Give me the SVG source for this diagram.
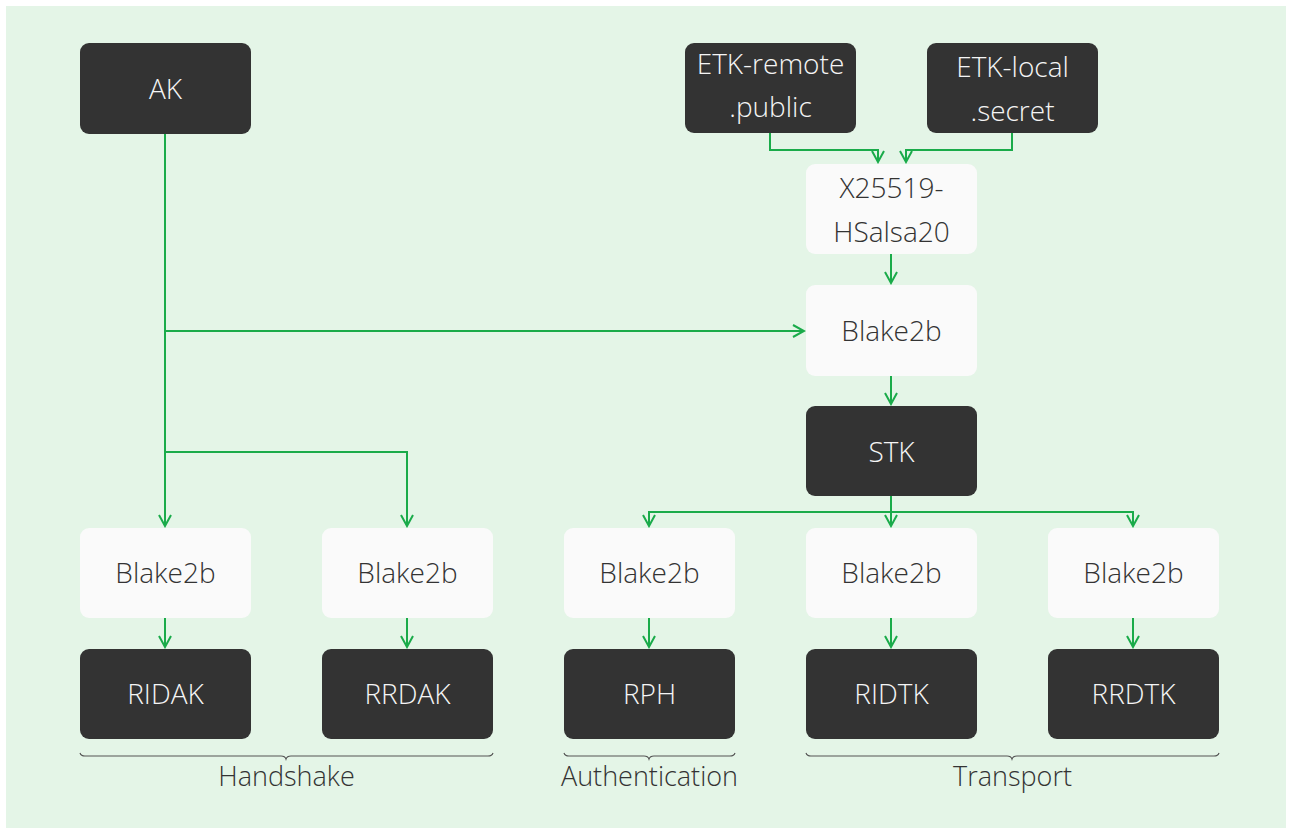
<svg xmlns="http://www.w3.org/2000/svg" width="1292" height="834" viewBox="0 0 1292 834">
<style>
.dark{fill:#333333}
.light{fill:#fafafa}
.tl{font-family:"Open Sans","Liberation Sans",sans-serif;font-weight:300;font-size:28px;fill:#f5f5f5;text-anchor:middle}
.td{font-family:"Open Sans","Liberation Sans",sans-serif;font-weight:300;font-size:28px;fill:#333333;text-anchor:middle}
.edge{fill:none;stroke:#1aab4a;stroke-width:2}
.brace{fill:none;stroke:#555;stroke-width:1.2}
.lbl{font-family:"Open Sans","Liberation Sans",sans-serif;font-weight:300;font-size:27px;fill:#333;text-anchor:middle}
</style>
<defs>
<marker id="arr" viewBox="0 0 14 14" refX="12" refY="7" markerWidth="14" markerHeight="14" markerUnits="userSpaceOnUse" orient="auto">
<path d="M1,1 L12,7 L1,13" fill="none" stroke="#1aab4a" stroke-width="2"/>
</marker>
</defs>
<rect x="0" y="0" width="1292" height="834" fill="#ffffff"/>
<rect x="6" y="6" width="1280" height="822" fill="#e4f5e7"/>
<g id="connectors">
<path class="edge" d="M165,134 V526" marker-end="url(#arr)"/>
<path class="edge" d="M165,331 H804" marker-end="url(#arr)"/>
<path class="edge" d="M165,452 H407 V526" marker-end="url(#arr)"/>
<path class="edge" d="M770,133 V150 H878 V162" marker-end="url(#arr)"/>
<path class="edge" d="M1012,133 V150 H906 V162" marker-end="url(#arr)"/>
<path class="edge" d="M891,254 V283" marker-end="url(#arr)"/>
<path class="edge" d="M891,376 V404" marker-end="url(#arr)"/>
<path class="edge" d="M891,496 V526" marker-end="url(#arr)"/>
<path class="edge" d="M649,526 V512 H1133 V526" marker-end="url(#arr)"/>
<path class="edge" d="M649,512 V526" marker-end="url(#arr)"/>
<path class="edge" d="M165,618 V647" marker-end="url(#arr)"/>
<path class="edge" d="M407,618 V647" marker-end="url(#arr)"/>
<path class="edge" d="M649,618 V647" marker-end="url(#arr)"/>
<path class="edge" d="M891,618 V647" marker-end="url(#arr)"/>
<path class="edge" d="M1133,618 V647" marker-end="url(#arr)"/>
</g>
<g id="AK"><rect class="dark" x="80" y="43" width="171" height="91" rx="9"/><text class="tl" x="165.5" y="99">AK</text></g>
<g id="ETK-remote"><rect class="dark" x="685" y="43" width="171" height="90" rx="9"/><text class="tl" x="770.5" y="74">ETK-remote</text><text class="tl" x="770.5" y="117">.public</text></g>
<g id="ETK-local"><rect class="dark" x="927" y="43" width="171" height="90" rx="9"/><text class="tl" x="1012.5" y="77">ETK-local</text><text class="tl" x="1012.5" y="121">.secret</text></g>
<g id="X25519"><rect class="light" x="806" y="164" width="171" height="90" rx="9"/><text class="td" x="891.5" y="198">X25519-</text><text class="td" x="891.5" y="242">HSalsa20</text></g>
<g id="Blake2b-main"><rect class="light" x="806" y="285" width="171" height="91" rx="9"/><text class="td" x="891.5" y="341">Blake2b</text></g>
<g id="STK"><rect class="dark" x="806" y="406" width="171" height="90" rx="9"/><text class="tl" x="891.5" y="462">STK</text></g>
<g id="Blake2b-1"><rect class="light" x="80" y="528" width="171" height="90" rx="9"/><text class="td" x="165.5" y="583">Blake2b</text></g>
<g id="Blake2b-2"><rect class="light" x="322" y="528" width="171" height="90" rx="9"/><text class="td" x="407.5" y="583">Blake2b</text></g>
<g id="Blake2b-3"><rect class="light" x="564" y="528" width="171" height="90" rx="9"/><text class="td" x="649.5" y="583">Blake2b</text></g>
<g id="Blake2b-4"><rect class="light" x="806" y="528" width="171" height="90" rx="9"/><text class="td" x="891.5" y="583">Blake2b</text></g>
<g id="Blake2b-5"><rect class="light" x="1048" y="528" width="171" height="90" rx="9"/><text class="td" x="1133.5" y="583">Blake2b</text></g>
<g id="RIDAK"><rect class="dark" x="80" y="649" width="171" height="90" rx="9"/><text class="tl" x="165.5" y="704">RIDAK</text></g>
<g id="RRDAK"><rect class="dark" x="322" y="649" width="171" height="90" rx="9"/><text class="tl" x="407.5" y="704">RRDAK</text></g>
<g id="RPH"><rect class="dark" x="564" y="649" width="171" height="90" rx="9"/><text class="tl" x="649.5" y="704">RPH</text></g>
<g id="RIDTK"><rect class="dark" x="806" y="649" width="171" height="90" rx="9"/><text class="tl" x="891.5" y="704">RIDTK</text></g>
<g id="RRDTK"><rect class="dark" x="1048" y="649" width="171" height="90" rx="9"/><text class="tl" x="1133.5" y="704">RRDTK</text></g>
<g id="Handshake">
<path class="brace" d="M80,753 Q81,756 85,756 H281 Q285,756 286,759 Q287,756 291,756 H488 Q492,756 493,753"/>
<text class="lbl" x="286.5" y="786">Handshake</text>
</g>
<g id="Authentication">
<path class="brace" d="M564,753 Q565,756 569,756 H644 Q648,756 649,759 Q650,756 654,756 H730 Q734,756 735,753"/>
<text class="lbl" x="649.5" y="786">Authentication</text>
</g>
<g id="Transport">
<path class="brace" d="M806,753 Q807,756 811,756 H1007 Q1011,756 1012,759 Q1013,756 1017,756 H1214 Q1218,756 1219,753"/>
<text class="lbl" x="1012.5" y="786">Transport</text>
</g>
</svg>
